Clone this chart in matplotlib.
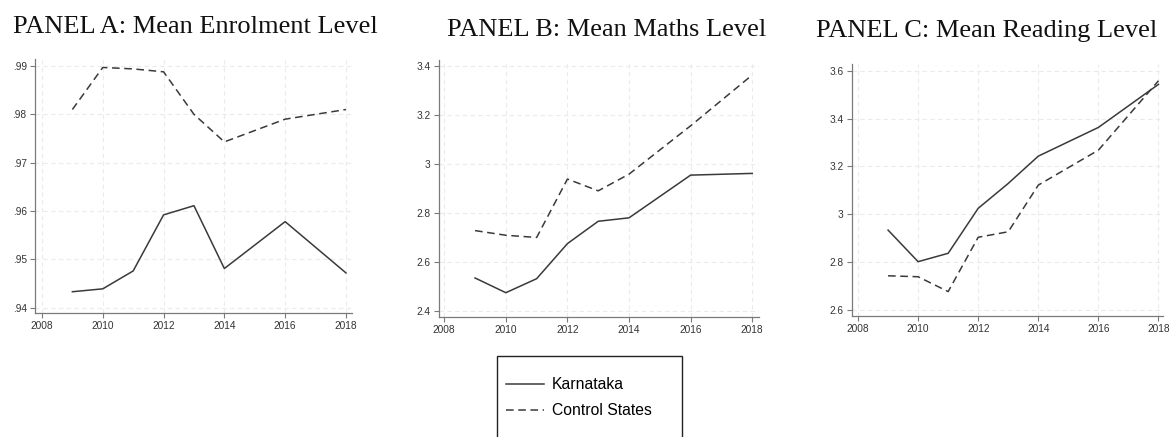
import matplotlib
matplotlib.use("Agg")
import matplotlib.pyplot as plt
from matplotlib.patches import Rectangle
from matplotlib.ticker import FuncFormatter

years = [2009, 2010, 2011, 2012, 2013, 2014, 2016, 2018]

# enrolment
enrol_karnataka = [0.9433, 0.9439, 0.9476, 0.9592, 0.9611, 0.9481, 0.9578, 0.9472]
enrol_control = [0.9810, 0.9897, 0.9894, 0.9888, 0.9800, 0.9743, 0.9790, 0.9810]

# maths
maths_karnataka = [2.536, 2.476, 2.533, 2.676, 2.767, 2.781, 2.955, 2.962]
maths_control = [2.729, 2.710, 2.701, 2.939, 2.891, 2.959, 3.156, 3.363]

# reading
read_karnataka = [2.934, 2.802, 2.837, 3.025, 3.129, 3.243, 3.363, 3.543]
read_control = [2.743, 2.739, 2.677, 2.904, 2.927, 3.122, 3.268, 3.558]

titles = ["PANEL A: Mean Enrolment Level",
          "PANEL B: Mean Maths Level",
          "PANEL C: Mean Reading Level"]
legend_labels = ["Karnataka", "Control States"]
xticks = [2008, 2010, 2012, 2014, 2016, 2018]
yticks_a = [0.94, 0.95, 0.96, 0.97, 0.98, 0.99]
yticks_b = [2.4, 2.6, 2.8, 3.0, 3.2, 3.4]
yticks_c = [2.6, 2.8, 3.0, 3.2, 3.4, 3.6]

W, H = 1170, 437
fig = plt.figure(figsize=(W / 100, H / 100), dpi=100)


def px_axes(left, top, right, bottom):
    return fig.add_axes([left / W, 1 - bottom / H, (right - left) / W, (bottom - top) / H])


def fmt_a(v, pos):
    return ("%.2f" % v).lstrip("0")


def fmt_bc(v, pos):
    s = "%.1f" % v
    return s[:-2] if s.endswith(".0") else s


panels = [
    (px_axes(35, 59, 352, 313), enrol_karnataka, enrol_control, yticks_a,
     (2007.77, 2018.2), (0.9389, 0.99145), fmt_a),
    (px_axes(439, 60, 759, 317), maths_karnataka, maths_control, yticks_b,
     (2007.83, 2018.22), (2.377, 3.424), fmt_bc),
    (px_axes(852, 64, 1163, 316), read_karnataka, read_control, yticks_c,
     (2007.8, 2018.15), (2.575, 3.628), fmt_bc),
]

line_color = "#3a3a3a"
for ax, kar, ctl, yt, xl, yl, fmt in panels:
    l1, = ax.plot(years, kar, color=line_color, lw=1.1, ls="-")
    l2, = ax.plot(years, ctl, color=line_color, lw=1.1, ls=(0, (5, 3)))
    ax.set_xlim(*xl)
    ax.set_ylim(*yl)
    ax.set_xticks(xticks)
    ax.set_yticks(yt)
    ax.yaxis.set_major_formatter(FuncFormatter(fmt))
    ax.grid(True, color="#ebebeb", ls=(0, (4, 3)), lw=0.8)
    ax.set_axisbelow(True)
    for side in ["top", "right"]:
        ax.spines[side].set_visible(False)
    for side in ["left", "bottom"]:
        ax.spines[side].set_color("#7a7a7a")
        ax.spines[side].set_linewidth(0.9)
    ax.tick_params(labelsize=7.3, colors="#7a7a7a", labelcolor="#333333",
                   length=3.5, width=0.8, pad=2.5)
    for lab in ax.get_xticklabels() + ax.get_yticklabels():
        lab.set_fontfamily("Liberation Sans")

# panel titles
title_pos = [(195, 33), (607, 36), (987, 37)]
for t, (cx, by) in zip(titles, title_pos):
    fig.text(cx / W, 1 - by / H, t, ha="center", va="baseline",
             fontsize=19, fontfamily="Liberation Serif", color="#111111")

# legend with an open-bottom frame
fig.patches.append(Rectangle((497 / W, -0.05), (682 - 497) / W, 0.05 + 1 - 356 / H,
                             transform=fig.transFigure, fill=False,
                             edgecolor="#222222", lw=1.0))
fig.legend([l1, l2], legend_labels, loc="upper left",
           bbox_to_anchor=(492 / W, 1 - 363 / H), frameon=False,
           prop={"family": "Liberation Sans", "size": 11.3},
           handlelength=2.4, handletextpad=0.5, labelspacing=0.72)

fig.savefig("out.png", dpi=100)
